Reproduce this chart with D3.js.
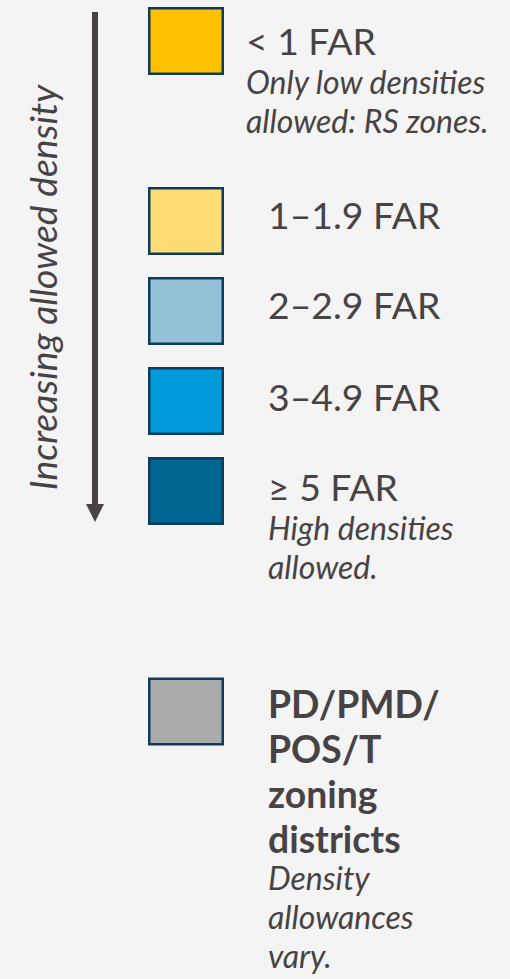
<!DOCTYPE html>
<html><head><meta charset="utf-8">
<script src="https://cdn.jsdelivr.net/npm/d3@7"></script>
<style>
html,body{margin:0;padding:0;background:#f4f4f4;}
svg{display:block;}
text{font-family:Lato,"Noto Sans",sans-serif;fill:#474344;}
</style></head>
<body>
<script>
const categories = ["< 1 FAR", "1–1.9 FAR", "2–2.9 FAR", "3–4.9 FAR", "≥ 5 FAR", "PD/PMD/POS/T zoning districts"];
const titleLines = [["< 1 FAR"], ["1–1.9 FAR"], ["2–2.9 FAR"], ["3–4.9 FAR"], ["≥ 5 FAR"], ["PD/PMD/", "POS/T", "zoning", "districts"]];
const noteLines = [["Only low densities", "allowed: RS zones."], [], [], [], ["High densities", "allowed."], ["Density", "allowances", "vary."]];
const colors = ["#FFC000", "#FFDD75", "#92C1D6", "#0099D9", "#006591", "#ABABAB"];
const rowSlot = [0, 2, 3, 4, 5, 7.45];
const axisLabel = "Increasing allowed density";

const W = 510, H = 979;
const svg = d3.select("body").append("svg").attr("width", W).attr("height", H);

const y = d3.scaleLinear().domain([0, 1]).range([7, 97]);
const sw = 76, sh = 68;
const boxX = 148;

// arrow
const arrowTop = 12, arrowTip = 522;
svg.append("line").attr("x1", 95).attr("x2", 95).attr("y1", arrowTop).attr("y2", arrowTip - 16)
  .attr("stroke", "#474344").attr("stroke-width", 6);
svg.append("path").attr("d", d3.line()([[86, arrowTip - 18], [104, arrowTip - 18], [95, arrowTip]]))
  .attr("fill", "#474344");
svg.append("text").attr("transform", "translate(57,287.5) rotate(-90)")
  .attr("text-anchor", "middle").attr("font-style", "italic").attr("font-size", 37.3)
  .text(axisLabel);

const rows = categories.map((c, i) => ({c, i, slot: rowSlot[i], color: colors[i], title: titleLines[i], note: noteLines[i]}));

const g = svg.selectAll("g.row").data(rows).join("g").attr("class", "row")
  .attr("transform", d => `translate(0,${y(d.slot)})`);

g.append("rect").attr("x", boxX + 1.25).attr("y", 1.25).attr("width", sw - 2.5).attr("height", sh - 2.5)
  .attr("fill", d => d.color).attr("stroke", "#0E3C5E").attr("stroke-width", 2.5);

const textX = d => d.i === 0 ? 246 : 268;
const titleOff = [48, 42, 42, 44, 44, 40];
g.each(function(d) {
  const s = d3.select(this);
  const bold = d.i === 5;
  const lh = bold ? 45.3 : 0;
  d.title.forEach((t, k) => {
    s.append("text").attr("x", textX(d)).attr("y", titleOff[d.i] + k * lh)
      .attr("font-size", 37.3).attr("font-weight", bold ? "bold" : "normal").text(t);
  });
  const lastTitle = titleOff[d.i] + (d.title.length - 1) * lh;
  const noteGap = bold ? 37 : 39;
  const noteLh = 39;
  d.note.forEach((t, k) => {
    s.append("text").attr("x", textX(d)).attr("y", lastTitle + noteGap + k * noteLh)
      .attr("font-size", 32).attr("font-style", "italic").text(t);
  });
});
</script>
</body></html>
